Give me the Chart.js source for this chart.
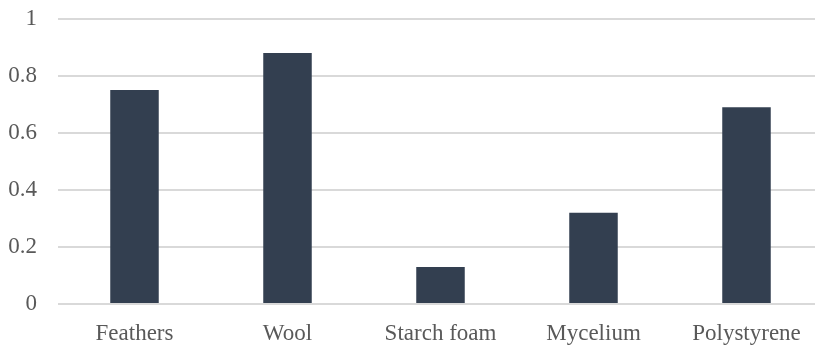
<!DOCTYPE html>
<html>
<head>
<meta charset="utf-8">
<script src="https://cdn.jsdelivr.net/npm/chart.js@4/dist/chart.umd.min.js"></script>
<style>
  html, body { margin: 0; padding: 0; background: #fff; overflow: hidden; }
  #wrap { width: 823px; height: 362px; margin-top: -16px; }
</style>
</head>
<body>
<div id="wrap"><canvas id="c" width="823" height="362"></canvas></div>
<script>
const categories = ["Feathers", "Wool", "Starch foam", "Mycelium", "Polystyrene"];
const values = [0.75, 0.88, 0.13, 0.32, 0.69];
const yTicks = [0, 0.2, 0.4, 0.6, 0.8, 1];

const fontSpec = { family: "'Liberation Serif', 'Times New Roman', serif", size: 23 };
const textColor = "#595959";
const gridColor = "#D9D9D9";

new Chart(document.getElementById("c"), {
  type: "bar",
  data: {
    labels: categories,
    datasets: [{
      data: values,
      backgroundColor: "#333F50",
      borderWidth: 0,
      categoryPercentage: 1,
      barPercentage: 0.317
    }]
  },
  options: {
    responsive: false,
    animation: false,
    devicePixelRatio: 1,
    layout: { padding: { top: 2, right: 0, left: 0, bottom: 0 } },
    plugins: { legend: { display: false }, tooltip: { enabled: false } },
    scales: {
      x: {
        grid: { display: false, drawTicks: false },
        border: { display: false },
        ticks: { color: textColor, font: fontSpec, padding: 16, maxRotation: 0, autoSkip: false },
        afterFit: s => { s.height = 42; }
      },
      y: {
        min: 0,
        max: 1,
        afterBuildTicks: s => { s.ticks = yTicks.map(v => ({ value: v })); },
        grid: { color: gridColor, lineWidth: 2, drawTicks: false },
        border: { display: false },
        ticks: {
          color: textColor,
          font: fontSpec,
          padding: 21,
          callback: v => String(+Number(v).toFixed(1))
        },
        afterFit: s => { s.width = 58; }
      }
    }
  }
});
</script>
</body>
</html>
